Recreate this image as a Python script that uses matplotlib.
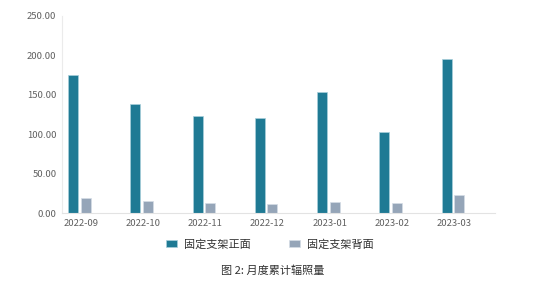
import numpy as np
import matplotlib
matplotlib.use("Agg")
import matplotlib.pyplot as plt

plt.rcParams['font.family'] = ['Noto Sans CJK SC', 'DejaVu Sans']

months = ['2022-09', '2022-10', '2022-11', '2022-12', '2023-01', '2023-02', '2023-03']
front = [175.3, 138.0, 123.0, 120.0, 154.0, 102.7, 196.0]
back = [19.6, 15.8, 12.3, 11.0, 14.5, 12.3, 23.0]
series_names = ['固定支架正面', '固定支架背面']
caption = '图 2: 月度累计辐照量'

c_front = '#1f7a94'
c_back = '#95a5b8'

fig = plt.figure(figsize=(5.37, 2.83), dpi=100)
ax = fig.add_axes([0.1155, 0.247, 0.8065, 0.6965])

x = np.arange(len(months))
w = 0.16
ax.bar(x - 0.1, front, w, color=c_front, edgecolor='#a9cfdb', linewidth=0.5, label=series_names[0])
ax.bar(x + 0.1, back, w, color=c_back, edgecolor='#d5dde6', linewidth=0.5, label=series_names[1])

ax.set_xlim(-0.28, 6.68)
ax.set_ylim(0, 250)
ax.set_yticks([0, 50, 100, 150, 200, 250])
ax.set_yticklabels(['%.2f' % v for v in [0, 50, 100, 150, 200, 250]])
ax.set_xticks(x + 0.02)
ax.set_xticklabels(months)
ax.tick_params(length=0, labelsize=6.8, colors='#606060', pad=4)

for s in ['top', 'right']:
    ax.spines[s].set_visible(False)
ax.spines['left'].set_color('#ebebeb')
ax.spines['bottom'].set_color('#e3e3e3')
ax.spines['left'].set_linewidth(0.8)
ax.spines['bottom'].set_linewidth(0.8)

ax.legend(loc='upper center', bbox_to_anchor=(0.48, -0.08), ncol=2, frameon=False,
          fontsize=8, handlelength=1.0, handleheight=0.7, columnspacing=3.5,
          handletextpad=0.6, labelcolor='#333333')

fig.text(0.508, 0.045, caption, ha='center', va='center', fontsize=8, color='#333333')

fig.savefig('out.png', dpi=100)
